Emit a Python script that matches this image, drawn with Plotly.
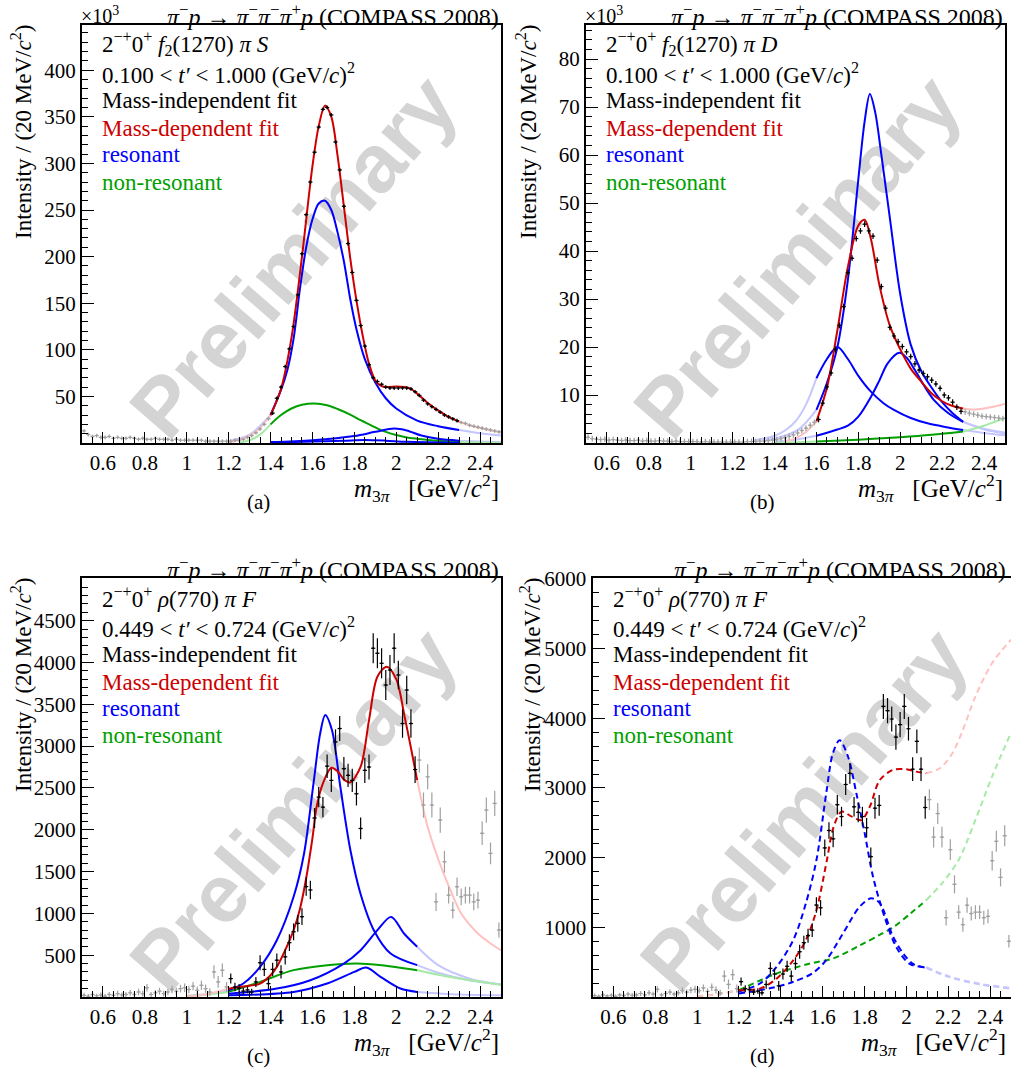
import numpy as np
import plotly.graph_objects as go

W, H = 1011, 1074


def px(x):
    return x / W


def py(y):
    return 1 - y / H


# ---------------- DATA ----------------
# Panel (a): 2-+0+ f2(1270) pi S, intensity in units of 10^3
A_gray_lo_m = np.round(np.arange(0.51, 1.40, 0.02), 2)
A_gray_lo_v = [13, 9, 7, 8, 6, 6, 7, 5, 6, 5, 5, 6, 5, 4, 5, 4, 4, 5, 4, 4, 4, 3, 4, 3, 3, 3, 3, 3, 3, 2,
               2, 2, 2, 2, 2, 2, 3, 3, 4, 6, 8, 11, 15, 20, 26]
A_black_m = np.round(np.arange(1.41, 2.30, 0.02), 2)
A_black_v = [32, 48, 60, 82, 101, 125, 159, 203, 245, 280, 312, 339, 358, 360, 352, 323, 293, 254, 214, 183,
             153, 126, 104, 84, 70, 66, 63, 60, 59, 59, 59, 59, 59, 58, 55, 51, 46, 42, 39, 36, 33, 30, 28, 26, 24]
A_gray_hi_m = np.round(np.arange(2.31, 2.50, 0.02), 2)
A_gray_hi_v = [22, 21, 19, 18, 17, 16, 15, 14, 13, 12]
A_err = 2.0

A_red_m = [1.40, 1.45, 1.50, 1.55, 1.60, 1.63, 1.66, 1.69, 1.72, 1.75, 1.78, 1.81, 1.84, 1.87, 1.90, 1.93, 1.96,
           2.00, 2.04, 2.07, 2.10, 2.15, 2.20, 2.25, 2.30]
A_red_v = [30, 58, 113, 200, 297, 340, 362, 350, 308, 254, 199, 153, 115, 85, 67, 61, 60, 60.5, 60, 58, 53, 43,
           35, 28, 23]
A_red_lo_m = [1.20, 1.25, 1.30, 1.35, 1.40]
A_red_lo_v = [1, 3, 8, 16, 30]
A_red_hi_m = [2.30, 2.35, 2.40, 2.45, 2.50]
A_red_hi_v = [23, 19, 16, 13.5, 11.5]
A_res1_m = [1.40, 1.45, 1.48, 1.51, 1.54, 1.57, 1.60, 1.63, 1.66, 1.69, 1.72, 1.75, 1.78, 1.81, 1.85, 1.90, 1.95,
            2.00, 2.10, 2.20, 2.30]
A_res1_v = [30, 57, 78, 112, 165, 210, 240, 257, 260, 250, 226, 195, 155, 122, 90, 65, 48, 37, 24, 18, 14]
A_res1_lo_m = [1.20, 1.30, 1.40]
A_res1_lo_v = [2, 9, 30]
A_res1_hi_m = [2.30, 2.40, 2.50]
A_res1_hi_v = [14, 10.5, 8]
A_res2_m = [1.40, 1.60, 1.80, 1.90, 1.99, 2.05, 2.12, 2.20, 2.30]
A_res2_v = [1, 3, 7.5, 12, 15.5, 13.5, 8, 4.5, 2.5]
A_res2_hi_m = [2.30, 2.40, 2.50]
A_res2_hi_v = [2.5, 1.7, 1.2]
A_res3_m = [1.40, 1.60, 1.75, 1.85, 1.95, 2.05, 2.30]
A_res3_v = [0.5, 1.5, 2.5, 3.2, 2.5, 1.3, 0.3]
A_nr_m = [1.40, 1.45, 1.50, 1.55, 1.61, 1.67, 1.72, 1.78, 1.83, 1.88, 1.93, 2.00, 2.05, 2.10, 2.15, 2.20, 2.30]
A_nr_v = [20, 30, 37, 41, 42.5, 40.5, 36.5, 30.5, 24.5, 19, 13.5, 8.5, 6, 4.5, 3.3, 2.3, 1]
A_nr_lo_m = [1.25, 1.30, 1.35, 1.40]
A_nr_lo_v = [0.5, 3, 9, 20]
A_nr_hi_m = [2.30, 2.40, 2.50]
A_nr_hi_v = [1, 0.5, 0.3]

# Panel (b): 2-+0+ f2(1270) pi D, intensity in units of 10^3
B_gray_lo_m = np.round(np.arange(0.51, 1.60, 0.02), 2)
B_gray_lo_v = [1.2, 0.9, 0.8, 0.7, 0.8, 0.6, 0.7, 0.6, 0.5, 0.6, 0.5, 0.5, 0.6, 0.4, 0.5, 0.4, 0.4, 0.5, 0.4, 0.4,
               0.3, 0.4, 0.3, 0.3, 0.3, 0.3, 0.3, 0.2, 0.3, 0.2, 0.2, 0.2, 0.2, 0.2, 0.2, 0.2, 0.2, 0.2, 0.3, 0.3,
               0.3, 0.4, 0.4, 0.5, 0.6, 0.7, 0.9, 1.1, 1.4, 1.7, 2.1, 2.6, 3.1, 3.7, 4.3]
B_black_m = np.round(np.arange(1.61, 2.30, 0.02), 2)
B_black_v = [4.9, 8.3, 11.7, 14.6, 19.5, 24.5, 28.4, 35.5, 38.5, 42.6, 44.2, 45.6, 44.2, 43.1, 38.1, 32.6, 28.1,
             24.1, 22.3, 21.1, 20.1, 19.0, 18.0, 16.5, 15.2, 14.5, 13.8, 13.1, 12.3, 11.4, 10.0, 9.4, 8.5, 7.5, 6.6]
B_gray_hi_m = np.round(np.arange(2.31, 2.50, 0.02), 2)
B_gray_hi_v = [6.5, 6.2, 6.0, 5.8, 5.6, 5.5, 5.4, 5.3, 5.2, 5.1]
B_err = 0.6

B_red_m = [1.60, 1.65, 1.70, 1.75, 1.80, 1.83, 1.86, 1.90, 1.95, 2.00, 2.05, 2.10, 2.15, 2.20, 2.25, 2.30]
B_red_v = [4.5, 11.5, 23.5, 36.7, 45.3, 46.5, 42.5, 33, 24.5, 19.5, 15.5, 12.8, 10.3, 8.7, 7.7, 7.2]
B_red_lo_m = [1.45, 1.50, 1.55, 1.60]
B_red_lo_v = [0.3, 1.0, 2.3, 4.5]
B_red_hi_m = [2.30, 2.35, 2.40, 2.45, 2.50]
B_red_hi_v = [7.2, 7.0, 7.2, 7.6, 8.2]
B_res1_m = [1.60, 1.65, 1.70, 1.75, 1.80, 1.83, 1.855, 1.88, 1.91, 1.95, 2.00, 2.05, 2.10, 2.15, 2.20, 2.25, 2.30]
B_res1_v = [6.9, 12.5, 20, 34, 55, 67, 72.7, 69, 60, 47, 31, 20.5, 15, 11.5, 8.5, 6.2, 4.4]
B_res1_lo_m = [1.35, 1.45, 1.52, 1.60]
B_res1_lo_v = [0.5, 1.5, 3, 6.9]
B_res1_hi_m = [2.30, 2.40, 2.50]
B_res1_hi_v = [4.4, 2.8, 2.0]
B_res2_m = [1.60, 1.65, 1.70, 1.75, 1.80, 1.86, 1.92, 1.97, 2.05, 2.13, 2.22, 2.30]
B_res2_v = [13.5, 17.5, 20, 17.5, 14, 10.7, 8.3, 6.9, 5.2, 4.1, 3.3, 2.7]
B_res2_lo_m = [1.30, 1.40, 1.45, 1.50, 1.55, 1.60]
B_res2_lo_v = [0.5, 1.5, 2.6, 4.5, 8, 13.5]
B_res2_hi_m = [2.30, 2.40, 2.50]
B_res2_hi_v = [2.7, 2.1, 1.6]
B_res3_m = [1.60, 1.70, 1.75, 1.80, 1.86, 1.90, 1.94, 1.995, 2.03, 2.07, 2.12, 2.16, 2.23, 2.30]
B_res3_v = [1.5, 2.8, 3.6, 5.5, 9.6, 13, 16.6, 18.8, 17.8, 15.2, 11.5, 9, 6.2, 4.4]
B_res3_lo_m = [1.40, 1.50, 1.60]
B_res3_lo_v = [0.3, 0.7, 1.5]
B_res3_hi_m = [2.30, 2.40, 2.50]
B_res3_hi_v = [4.4, 3.0, 2.2]
B_nr_m = [1.60, 1.80, 2.00, 2.15, 2.30]
B_nr_v = [0.3, 0.7, 1.2, 1.7, 2.4]
B_nr_lo_m = [1.40, 1.50, 1.60]
B_nr_lo_v = [0.05, 0.15, 0.3]
B_nr_hi_m = [2.30, 2.40, 2.50]
B_nr_hi_v = [2.4, 3.6, 5.2]

# Panels (c) and (d): 2-+0+ rho(770) pi F, same mass-independent points
C_gray_lo_m = np.round(np.arange(0.51, 1.20, 0.02), 2)
C_gray_lo_v = [20, 10, 30, 15, 25, 10, 30, 20, 40, 25, 30, 50, 30, 60, 40, 110, 30, 50, 70, 40,
               60, 90, 70, 100, 110, 90, 130, 80, 140, 100, 60, 300, 180, 320, 120]
C_gray_lo_e = [30, 25, 30, 25, 30, 25, 30, 30, 35, 30, 30, 35, 30, 40, 35, 45, 30, 35, 40, 35,
               40, 45, 40, 45, 50, 45, 50, 45, 55, 50, 45, 80, 70, 80, 60]
C_black_m = np.round(np.arange(1.21, 2.10, 0.02), 2)
C_black_v = [220, 120, 105, 70, 85, 60, 180, 410, 330, 160, 330, 440, 300, 480, 650, 780, 880, 960, 1320, 1280,
             2140, 2390, 2270, 2760, 2590, 3050, 3210, 2730, 2650, 2590, 2430, 2015, 2710, 2750, 4170, 4110, 3990,
             3730, 3910, 4170, 3850, 3270, 3670, 3270, 2720]
C_black_e = [60, 50, 50, 40, 40, 40, 60, 90, 80, 70, 80, 80, 80, 90, 100, 100, 100, 100, 110, 110,
             120, 120, 120, 140, 140, 150, 150, 140, 140, 140, 140, 130, 150, 150, 180, 180, 180, 180, 180, 180,
             170, 170, 170, 170, 160]
C_gray_hi_m = np.round(np.arange(2.11, 2.50, 0.02), 2)
C_gray_hi_v = [2833, 2295, 2633, 2295, 1138, 2115, 1617, 1218, 1038, 1318, 1198, 1218, 1218, 1138, 1158, 1957,
               2235, 1717, 2315, 800]
C_gray_hi_e = [150, 150, 150, 150, 110, 150, 130, 100, 100, 110, 100, 100, 100, 100, 100, 140, 150, 130, 150, 90]

C_red_m = [1.20, 1.25, 1.30, 1.35, 1.40, 1.43, 1.47, 1.51, 1.54, 1.57, 1.60, 1.62, 1.65, 1.69, 1.72, 1.75, 1.78,
           1.83, 1.87, 1.91, 1.955, 2.00, 2.04, 2.07, 2.10]
C_red_v = [100, 120, 135, 161, 260, 360, 560, 800, 1050, 1420, 1900, 2274, 2553, 2741, 2700, 2600, 2566, 2754,
           3311, 3829, 3950, 3800, 3351, 2980, 2593]
C_red_lo_m = [1.00, 1.05, 1.10, 1.15, 1.20]
C_red_lo_v = [5, 15, 35, 65, 100]
C_red_hi_m = [2.10, 2.15, 2.20, 2.25, 2.31, 2.39, 2.45, 2.50]
C_red_hi_v = [2593, 2035, 1650, 1330, 998, 759, 640, 560]
C_res1_m = [1.20, 1.27, 1.35, 1.43, 1.51, 1.56, 1.605, 1.637, 1.661, 1.693, 1.733, 1.781, 1.829, 1.893, 1.973, 2.10]
C_res1_v = [80, 161, 360, 679, 1198, 1716, 2554, 3152, 3371, 3192, 2514, 1757, 1238, 799, 520, 381]
C_res1_lo_m = [1.00, 1.10, 1.20]
C_res1_lo_v = [15, 35, 80]
C_res1_hi_m = [2.10, 2.20, 2.35, 2.50]
C_res1_hi_v = [381, 290, 200, 150]
C_res2_m = [1.20, 1.43, 1.59, 1.75, 1.83, 1.91, 1.976, 2.037, 2.10]
C_res2_v = [40, 101, 201, 400, 560, 799, 958, 759, 600]
C_res2_hi_m = [2.10, 2.20, 2.35, 2.50]
C_res2_hi_v = [600, 380, 220, 150]
C_res3_m = [1.20, 1.51, 1.67, 1.80, 1.857, 1.925, 2.02, 2.10]
C_res3_v = [20, 61, 161, 300, 353, 241, 101, 61]
C_res3_hi_m = [2.10, 2.30, 2.50]
C_res3_hi_v = [61, 30, 20]
C_nr_m = [1.20, 1.35, 1.51, 1.67, 1.81, 1.93, 2.10]
C_nr_v = [61, 181, 321, 380, 400, 380, 321]
C_nr_lo_m = [1.00, 1.10, 1.20]
C_nr_lo_v = [10, 30, 61]
C_nr_hi_m = [2.10, 2.30, 2.50]
C_nr_hi_v = [321, 220, 147]

D_red_m = [1.20, 1.30, 1.38, 1.46, 1.52, 1.57, 1.62, 1.65, 1.69, 1.74, 1.785, 1.825, 1.873, 1.936, 2.00, 2.047,
           2.095]
D_red_v = [98, 120, 264, 528, 820, 1242, 1962, 2420, 2660, 2588, 2540, 2730, 3115, 3259, 3268, 3235, 3211]
D_red_lo_m = [1.00, 1.10, 1.20]
D_red_lo_v = [10, 40, 98]
D_red_hi_m = [2.095, 2.16, 2.22, 2.27, 2.33, 2.41, 2.50]
D_red_hi_v = [3211, 3283, 3498, 3834, 4314, 4793, 5129]
D_res1_m = [1.20, 1.30, 1.38, 1.46, 1.52, 1.57, 1.617, 1.649, 1.681, 1.721, 1.761, 1.801, 1.841, 1.896, 1.952,
            2.016, 2.095]
D_res1_v = [80, 194, 434, 820, 1348, 1962, 2923, 3500, 3685, 3452, 2923, 2348, 1722, 1146, 715, 475, 427]
D_res1_hi_m = [2.095, 2.20, 2.35, 2.50]
D_res1_hi_v = [427, 300, 190, 130]
D_res2_m = [1.20, 1.38, 1.46, 1.55, 1.617, 1.697, 1.777, 1.833, 1.873, 1.936, 1.984, 2.032, 2.095]
D_res2_v = [50, 146, 218, 338, 528, 912, 1296, 1417, 1347, 868, 628, 475, 420]
D_res2_hi_m = [2.095, 2.20, 2.35, 2.50]
D_res2_hi_v = [420, 290, 180, 120]
D_nr_m = [1.20, 1.38, 1.54, 1.65, 1.78, 1.87, 1.94, 2.02, 2.095]
D_nr_v = [98, 338, 480, 553, 744, 888, 1007, 1199, 1391]
D_nr_lo_m = [1.00, 1.10, 1.20]
D_nr_lo_v = [10, 40, 98]
D_nr_hi_m = [2.095, 2.17, 2.25, 2.33, 2.41, 2.50]
D_nr_hi_v = [1391, 1631, 1967, 2543, 3167, 3791]

# axis ticks
X_TICKS = [0.6, 0.8, 1.0, 1.2, 1.4, 1.6, 1.8, 2.0, 2.2, 2.4]
X_TICKTEXT = ["0.6", "0.8", "1", "1.2", "1.4", "1.6", "1.8", "2", "2.2", "2.4"]
A_YTICKS = [50, 100, 150, 200, 250, 300, 350, 400]
B_YTICKS = [10, 20, 30, 40, 50, 60, 70, 80]
C_YTICKS = [500, 1000, 1500, 2000, 2500, 3000, 3500, 4000, 4500]
D_YTICKS = [1000, 2000, 3000, 4000, 5000, 6000]

# ---------------- STYLE ----------------
RED = '#cc0000'
BLUE = '#0000ff'
GREEN = '#00a000'
PINK = '#ffc0c0'
LBLUE = '#c6c6ff'
LGREEN = '#a6eaa6'
GRAY = '#a0a0a0'
SERIF = "'Liberation Serif', 'Times New Roman', Times, 'DejaVu Serif', serif"
SANS = "'Liberation Sans', Arial, Helvetica, sans-serif"

fig = go.Figure()

PANELS = {
    'a': dict(ax='', fl=82, fr=501, ft=25, fb=443, yr=[0, 448.5], yt=A_YTICKS, ymin=10),
    'b': dict(ax='2', fl=586, fr=1005, ft=25, fb=443, yr=[0, 87.1], yt=B_YTICKS, ymin=2),
    'c': dict(ax='3', fl=82, fr=501, ft=578, fb=997, yr=[0, 5010], yt=C_YTICKS, ymin=100),
    'd': dict(ax='4', fl=592.5, fr=1011, ft=578, fb=997, yr=[0, 6014], yt=D_YTICKS, ymin=200),
}


def axes(p):
    a = PANELS[p]['ax']
    return dict(xaxis='x' + a, yaxis='y' + a)


def curve(p, m, v, color, dash='solid', width=2):
    fig.add_trace(go.Scatter(x=m, y=v, mode='lines',
                             line=dict(color=color, width=width, dash=dash, shape='spline', smoothing=0.9),
                             showlegend=False, hoverinfo='skip', **axes(p)))


def points(p, m, v, err, color):
    if np.isscalar(err):
        ey = dict(type='constant', value=err, width=0, thickness=1.2, color=color)
    else:
        ey = dict(type='data', array=err, width=0, thickness=1.2, color=color)
    fig.add_trace(go.Scatter(x=m, y=v, mode='markers',
                             marker=dict(size=2, color=color),
                             error_x=dict(type='constant', value=0.01, width=0, thickness=1.2, color=color),
                             error_y=ey, showlegend=False, hoverinfo='skip', **axes(p)))


# panel (a)
curve('a', A_res1_lo_m, A_res1_lo_v, LBLUE)
curve('a', A_nr_lo_m, A_nr_lo_v, LGREEN)
curve('a', A_red_lo_m, A_red_lo_v, PINK)
curve('a', A_res1_hi_m, A_res1_hi_v, LBLUE)
curve('a', A_res2_hi_m, A_res2_hi_v, LBLUE)
curve('a', A_nr_hi_m, A_nr_hi_v, LGREEN)
curve('a', A_red_hi_m, A_red_hi_v, PINK)
curve('a', A_nr_m, A_nr_v, GREEN)
curve('a', A_res3_m, A_res3_v, BLUE)
curve('a', A_res2_m, A_res2_v, BLUE)
curve('a', A_res1_m, A_res1_v, BLUE)
curve('a', A_red_m, A_red_v, RED)
points('a', A_gray_lo_m, A_gray_lo_v, A_err, GRAY)
points('a', A_gray_hi_m, A_gray_hi_v, A_err, GRAY)
points('a', A_black_m, A_black_v, A_err, 'black')

# panel (b)
curve('b', B_res1_lo_m, B_res1_lo_v, LBLUE)
curve('b', B_res2_lo_m, B_res2_lo_v, LBLUE)
curve('b', B_res3_lo_m, B_res3_lo_v, LBLUE)
curve('b', B_nr_lo_m, B_nr_lo_v, LGREEN)
curve('b', B_red_lo_m, B_red_lo_v, PINK)
curve('b', B_res1_hi_m, B_res1_hi_v, LBLUE)
curve('b', B_res2_hi_m, B_res2_hi_v, LBLUE)
curve('b', B_res3_hi_m, B_res3_hi_v, LBLUE)
curve('b', B_nr_hi_m, B_nr_hi_v, LGREEN)
curve('b', B_red_hi_m, B_red_hi_v, PINK)
curve('b', B_nr_m, B_nr_v, GREEN)
curve('b', B_res3_m, B_res3_v, BLUE)
curve('b', B_res2_m, B_res2_v, BLUE)
curve('b', B_res1_m, B_res1_v, BLUE)
curve('b', B_red_m, B_red_v, RED)
points('b', B_gray_lo_m, B_gray_lo_v, B_err, GRAY)
points('b', B_gray_hi_m, B_gray_hi_v, B_err, GRAY)
points('b', B_black_m, B_black_v, B_err, 'black')

# panel (c)
curve('c', C_res1_lo_m, C_res1_lo_v, LBLUE)
curve('c', C_nr_lo_m, C_nr_lo_v, LGREEN)
curve('c', C_red_lo_m, C_red_lo_v, PINK)
curve('c', C_res1_hi_m, C_res1_hi_v, LBLUE)
curve('c', C_res2_hi_m, C_res2_hi_v, LBLUE)
curve('c', C_res3_hi_m, C_res3_hi_v, LBLUE)
curve('c', C_nr_hi_m, C_nr_hi_v, LGREEN)
curve('c', C_red_hi_m, C_red_hi_v, PINK)
curve('c', C_nr_m, C_nr_v, GREEN)
curve('c', C_res3_m, C_res3_v, BLUE)
curve('c', C_res2_m, C_res2_v, BLUE)
curve('c', C_res1_m, C_res1_v, BLUE)
curve('c', C_red_m, C_red_v, RED)
points('c', C_gray_lo_m, C_gray_lo_v, C_gray_lo_e, GRAY)
points('c', C_gray_hi_m, C_gray_hi_v, C_gray_hi_e, GRAY)
points('c', C_black_m, C_black_v, C_black_e, 'black')

# panel (d)
DASH = '6px,4px'
curve('d', D_nr_lo_m, D_nr_lo_v, LGREEN, DASH)
curve('d', D_red_lo_m, D_red_lo_v, PINK, DASH)
curve('d', D_res1_hi_m, D_res1_hi_v, LBLUE, DASH)
curve('d', D_res2_hi_m, D_res2_hi_v, LBLUE, DASH)
curve('d', D_nr_hi_m, D_nr_hi_v, LGREEN, DASH)
curve('d', D_red_hi_m, D_red_hi_v, PINK, DASH)
curve('d', D_nr_m, D_nr_v, GREEN, DASH)
curve('d', D_res2_m, D_res2_v, BLUE, DASH)
curve('d', D_res1_m, D_res1_v, BLUE, DASH)
curve('d', D_red_m, D_red_v, RED, DASH)
points('d', C_gray_lo_m, C_gray_lo_v, C_gray_lo_e, GRAY)
points('d', C_gray_hi_m, C_gray_hi_v, C_gray_hi_e, GRAY)
points('d', C_black_m, C_black_v, C_black_e, 'black')

# ---------------- AXES ----------------
layout = dict(width=W, height=H, margin=dict(l=0, r=0, t=0, b=0),
              paper_bgcolor='white', plot_bgcolor='rgba(0,0,0,0)', showlegend=False,
              template='none', font=dict(family=SERIF, color='black'))
for p, c in PANELS.items():
    a = c['ax']
    layout['xaxis' + a] = dict(
        domain=[px(c['fl']), min(px(c['fr']), 1.0)], range=[0.5, 2.5], anchor='y' + a,
        showline=True, linecolor='black', linewidth=2, mirror=True,
        ticks='inside', ticklen=11, tickwidth=1, tickcolor='black',
        tickmode='array', tickvals=X_TICKS, ticktext=X_TICKTEXT,
        tickfont=dict(family=SERIF, size=21, color='black'),
        minor=dict(ticks='inside', ticklen=6, tickwidth=1, tickcolor='black', dtick=0.05, tick0=0.5,
                   showgrid=False),
        showgrid=False, zeroline=False, fixedrange=True)
    layout['yaxis' + a] = dict(
        domain=[py(c['fb']), py(c['ft'])], range=c['yr'], anchor='x' + a,
        showline=True, linecolor='black', linewidth=2, mirror=True,
        ticks='inside', ticklen=12, tickwidth=1, tickcolor='black',
        tickmode='array', tickvals=c['yt'],
        tickfont=dict(family=SERIF, size=21, color='black'),
        minor=dict(ticks='inside', ticklen=6, tickwidth=1, tickcolor='black', dtick=c['ymin'], tick0=0,
                   showgrid=False),
        showgrid=False, zeroline=False, fixedrange=True)

# ---------------- TEXT ----------------
ann = []
shapes = []


def A(text, x, y, size=23, color='black', xa='left', ya='middle', angle=0):
    ann.append(dict(text=text, x=px(x), y=py(y), xref='paper', yref='paper', showarrow=False,
                    xanchor=xa, yanchor=ya, textangle=angle,
                    font=dict(family=SERIF, size=size, color=color)))


TITLE = ('<i>π</i><sup>−</sup><i>p</i> → <i>π</i><sup>−</sup><i>π</i><sup>−</sup><i>π</i><sup>+</sup>'
         '<i>p</i> (COMPASS 2008)')
YTITLE = 'Intensity / (20 MeV/<i>c</i><sup>2</sup>)'
XTITLE = '<i>m</i><sub>3<i>π</i></sub>   [GeV/<i>c</i><sup>2</sup>]'
WAVE = {
    'a': '2<sup>−+</sup>0<sup>+</sup> <i>f</i><sub>2</sub>(1270) <i>π S</i>',
    'b': '2<sup>−+</sup>0<sup>+</sup> <i>f</i><sub>2</sub>(1270) <i>π D</i>',
    'c': '2<sup>−+</sup>0<sup>+</sup> <i>ρ</i>(770) <i>π F</i>',
    'd': '2<sup>−+</sup>0<sup>+</sup> <i>ρ</i>(770) <i>π F</i>',
}
TBIN = {
    'a': "0.100 < <i>t′</i> < 1.000 (GeV/<i>c</i>)<sup>2</sup>",
    'b': "0.100 < <i>t′</i> < 1.000 (GeV/<i>c</i>)<sup>2</sup>",
    'c': "0.449 < <i>t′</i> < 0.724 (GeV/<i>c</i>)<sup>2</sup>",
    'd': "0.449 < <i>t′</i> < 0.724 (GeV/<i>c</i>)<sup>2</sup>",
}
YT_X = {'a': 21, 'b': 526, 'c': 21, 'd': 530}
LAB_X = {'a': 258, 'b': 762, 'c': 258, 'd': 762}

for p, c in PANELS.items():
    fl, fr, ft, fb = c['fl'], c['fr'], c['ft'], c['fb']
    right = min(fr, 1008)
    A(TITLE, right, ft - 10, size=24, xa='right')
    if p in ('a', 'b'):
        A('×10<sup>3</sup>', fl - 3, ft - 10, size=20)
    lx = fl + 18
    A(WAVE[p], lx, ft + 19)
    A(TBIN[p], lx, ft + 49)
    A('Mass-independent fit', lx, ft + 76)
    A('Mass-dependent fit', lx, ft + 104, color=RED)
    A('resonant', lx, ft + 130, color=BLUE)
    A('non-resonant', lx, ft + 157, color=GREEN)
    A(YTITLE, YT_X[p], ft - 2, xa='center', ya='top', angle=-90)
    A(XTITLE, right, fb + 45, size=25, xa='right')
    A('(' + p + ')', LAB_X[p], fb + 59, size=21, xa='center')
    # watermark
    cx, cy = fl + 205, ft + 226
    shapes.append(dict(type='rect', xref='paper', yref='paper',
                       x0=px(cx - 5), x1=px(cx + 5), y0=py(cy + 5), y1=py(cy - 5),
                       line=dict(width=0), fillcolor='rgba(0,0,0,0)', layer='below',
                       label=dict(text='Preliminary', textangle=-49, textposition='middle center',
                                  font=dict(family=SANS, size=82, color='#d4d4d4',
                                            weight='bold'))))

layout['annotations'] = ann
layout['shapes'] = shapes
fig.update_layout(**layout)

fig.write_html("out.html", config={'displayModeBar': False, 'staticPlot': True},
               post_script="document.body.style.margin='0';document.body.style.overflow='hidden';")
